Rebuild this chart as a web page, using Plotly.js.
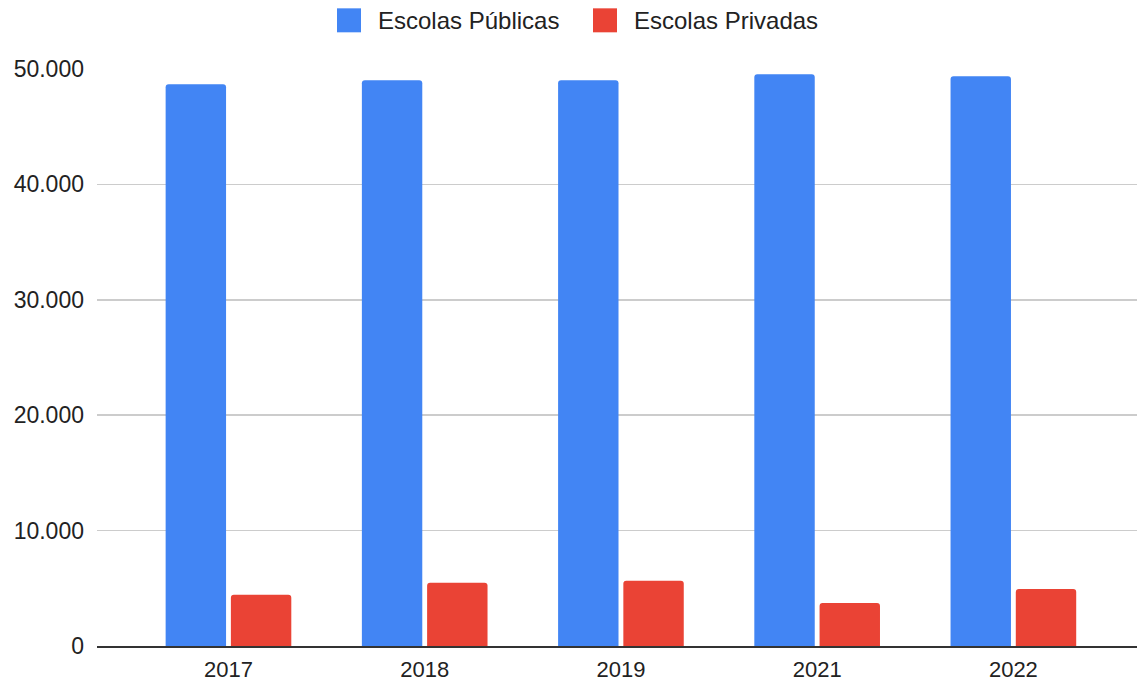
<!DOCTYPE html>
<html>
<head>
<meta charset="utf-8">
<script src="https://cdn.plot.ly/plotly-3.0.1.min.js"></script>
<style>html,body{margin:0;padding:0;background:#fff;}#chart{width:1137px;height:682px;}</style>
</head>
<body>
<div id="chart"></div>
<script>
const years = ['2017', '2018', '2019', '2021', '2022'];
const publicas = [48680, 49020, 49020, 49540, 49370];
const privadas = [4440, 5480, 5650, 3720, 4940];
const seriesNames = ['Escolas Públicas', 'Escolas Privadas'];
const seriesColors = ['#4285F4', '#EA4335'];
const yTicks = [0, 10000, 20000, 30000, 40000, 50000];

const W = 1137, H = 682;
const M = {l: 97, r: 0, t: 68.7, b: 36};
const PW = W - M.l - M.r, PH = H - M.t - M.b;
const px2x = p => (p - M.l) / PW;
const py2y = p => (H - M.b - p) / PH;

const font = '"Liberation Sans", Arial, sans-serif';
const traces = [publicas, privadas].map((vals, i) => ({
  type: 'bar', x: years, y: vals, name: seriesNames[i],
  marker: {color: seriesColors[i], cornerradius: 3, line: {width: 0}},
  showlegend: false, hoverinfo: 'x+y'
}));

// custom legend (large swatches)
const legendItems = [
  {sx: 337, tx: 376},
  {sx: 593, tx: 632}
];
const shapes = legendItems.map((it, i) => ({
  type: 'rect', xref: 'paper', yref: 'paper',
  x0: px2x(it.sx), x1: px2x(it.sx + 24), y0: py2y(32), y1: py2y(8),
  fillcolor: seriesColors[i], line: {width: 0}, layer: 'above'
}));
const annotations = legendItems.map((it, i) => ({
  xref: 'paper', yref: 'paper', x: px2x(it.tx), y: py2y(20),
  xanchor: 'left', yanchor: 'middle', showarrow: false,
  text: seriesNames[i], font: {family: font, size: 24, color: '#222'}
}));

const layout = {
  width: W, height: H,
  margin: M,
  paper_bgcolor: '#fff', plot_bgcolor: '#fff',
  separators: ',.',
  barmode: 'group', bargap: 0.335, bargroupgap: 0.074,
  font: {family: font, size: 23, color: '#222'},
  xaxis: {
    type: 'category', range: [-0.67, 4.63],
    showgrid: false, zeroline: false,
    showline: true, linecolor: '#333', linewidth: 1.5,
    ticks: '', ticklabelstandoff: 3,
    tickfont: {family: font, size: 22, color: '#222'}
  },
  yaxis: {
    range: [0, 50000], tickvals: yTicks, tickformat: ',d',
    showgrid: true, gridcolor: '#cccccc', gridwidth: 1.5,
    zeroline: false, showline: false, ticks: '',
    ticklabelstandoff: 12,
    tickfont: {family: font, size: 23, color: '#222'}
  },
  shapes: shapes,
  annotations: annotations,
  showlegend: false
};

Plotly.newPlot('chart', traces, layout, {displayModeBar: false, staticPlot: true});
</script>
</body>
</html>
